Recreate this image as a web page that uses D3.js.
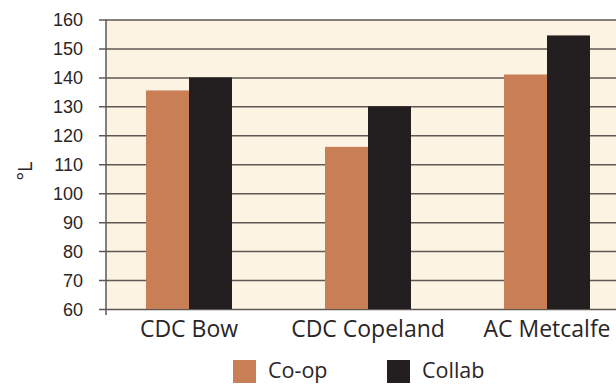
<!DOCTYPE html>
<html>
<head>
<meta charset="utf-8">
<script src="https://cdn.jsdelivr.net/npm/d3@7"></script>
<style>
  html, body { margin: 0; padding: 0; background: #fff; overflow: hidden; }
  svg { display: block; font-family: "Open Sans", Lato, sans-serif; }
</style>
</head>
<body>
<svg id="chart" width="616" height="384"></svg>
<script>
// Varieties and the two trial series
const categories = ["CDC Bow", "CDC Copeland", "AC Metcalfe"];
const series = ["Co-op", "Collab"];
const coopValues = [135.5, 116, 141];
const collabValues = [140, 130, 154.5];
const yTicks = [60, 70, 80, 90, 100, 110, 120, 130, 140, 150, 160];
const colors = ["#C97F55", "#231F20"];

const data = categories.map((c, i) => ({ cat: c, values: [coopValues[i], collabValues[i]] }));

const svg = d3.select("#chart");
const W = 616, H = 384;
const plot = { left: 106, top: 19.5, bottom: 309, right: W };
const textColor = "#2a2526";

const y = d3.scaleLinear().domain([60, 160]).range([plot.bottom, plot.top]);
const x0 = d3.scaleBand().domain(categories).range([99.5, 636.5]).padding(0);
const x1 = d3.scaleBand().domain(series).range([-43, 43]).padding(0);

// plot background
svg.append("rect")
  .attr("x", plot.left).attr("y", plot.top)
  .attr("width", plot.right - plot.left).attr("height", plot.bottom - plot.top)
  .attr("fill", "#FDF3E3");

// gridlines with ticks that run out past the axis
const yAxis = d3.axisLeft(y).tickValues(yTicks)
  .tickSize(-(plot.right - plot.left) - 7).tickFormat(d3.format("d"));
const gy = svg.append("g").attr("transform", `translate(${plot.right},0)`);
gy.call(yAxis);
gy.select(".domain").remove();
gy.selectAll(".tick line").attr("stroke", "#5e5755").attr("stroke-width", 1.5)
  .attr("x1", 0).attr("x2", -(plot.right - plot.left) - 7);
gy.selectAll(".tick text")
  .attr("x", -(plot.right - 83))
  .attr("dy", "0.34em")
  .attr("fill", textColor).attr("font-size", 18);

// bars
const groups = svg.append("g").selectAll("g").data(data).join("g")
  .attr("transform", d => `translate(${x0(d.cat) + x0.bandwidth() / 2},0)`);
groups.selectAll("rect").data(d => d.values.map((v, k) => ({ s: series[k], v, k })))
  .join("rect")
  .attr("x", d => x1(d.s))
  .attr("width", x1.bandwidth())
  .attr("y", d => y(d.v))
  .attr("height", d => y(60) - y(d.v))
  .attr("fill", d => colors[d.k]);

// left axis line
svg.append("line")
  .attr("x1", plot.left).attr("x2", plot.left)
  .attr("y1", plot.top).attr("y2", plot.bottom + 6)
  .attr("stroke", "#5e5755").attr("stroke-width", 1.5);

// category labels
svg.append("g").selectAll("text").data(categories).join("text")
  .attr("x", d => x0(d) + x0.bandwidth() / 2)
  .attr("y", 337)
  .attr("text-anchor", "middle")
  .attr("font-size", 23)
  .attr("fill", textColor)
  .text(d => d);

// y axis title
svg.append("text")
  .attr("transform", "translate(32,171) rotate(-90)")
  .attr("text-anchor", "middle")
  .attr("font-size", 20)
  .attr("fill", textColor)
  .text("°L");

// legend
const legendX = [233, 387];
const lg = svg.append("g").selectAll("g").data(series).join("g")
  .attr("transform", (d, i) => `translate(${legendX[i]},360)`);
lg.append("rect").attr("width", 23).attr("height", 23).attr("fill", (d, i) => colors[i]);
lg.append("text").attr("x", 35).attr("y", 18).attr("font-size", 21.5)
  .attr("fill", textColor).text(d => d);
</script>
</body>
</html>
